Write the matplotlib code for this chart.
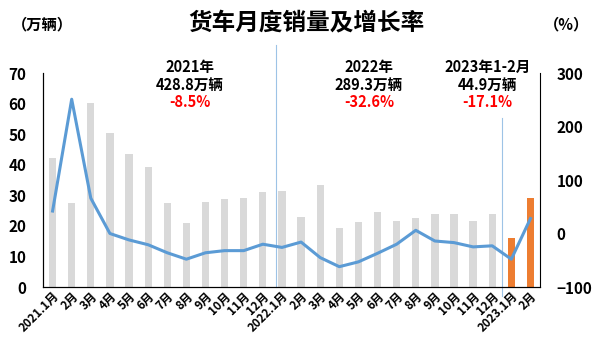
import numpy as np
import matplotlib.pyplot as plt

plt.rcParams['font.family'] = ['Noto Sans CJK SC', 'DejaVu Sans']
plt.rcParams['font.weight'] = 'bold'

# 月份标签
months = ['2021.1月', '2月', '3月', '4月', '5月', '6月', '7月', '8月', '9月', '10月', '11月', '12月',
          '2022.1月', '2月', '3月', '4月', '5月', '6月', '7月', '8月', '9月', '10月', '11月', '12月',
          '2023.1月', '2月']

# 销量 (万辆)
sales = [42.3, 27.6, 60.1, 50.3, 43.6, 39.4, 27.6, 21.0, 27.7, 28.9, 29.1, 31.1,
         31.5, 22.8, 33.3, 19.2, 21.2, 24.6, 21.7, 22.5, 23.9, 23.9, 21.7, 24.0,
         15.9, 29.2]

# 同比增长率 (%)
growth = [42, 251, 66, 0, -12, -21, -36, -48, -36, -32, -32, -20,
          -26, -16, -45, -62, -53, -37, -20, 6, -14, -17, -25, -23,
          -48, 28]

gray = '#d9d9d9'
orange = '#ed7d31'
blue = '#5b9bd5'

x = np.arange(len(months))
colors = [gray] * 24 + [orange] * 2

fig = plt.figure(figsize=(6, 3.51), dpi=100)
ax = fig.add_axes([0.0717, 0.1823, 0.8283, 0.6097])
ax.bar(x, sales, width=0.38, color=colors, zorder=1)
ax.set_ylim(0, 70)
ax.set_xlim(-0.5, len(months) - 0.5)
ax.set_yticks(range(0, 71, 10))
ax.set_xticks(x)
ax.set_xticklabels(months, rotation=45, ha='right', rotation_mode='anchor', fontsize=8.5)
ax.tick_params(axis='both', length=0)
ax.tick_params(axis='y', labelsize=11, pad=12)
ax.tick_params(axis='x', pad=2)
ax.spines['top'].set_visible(False)
ax.spines['right'].set_visible(False)

ax2 = ax.twinx()
ax2.plot(x, growth, color=blue, linewidth=2.2, zorder=3)
ax2.set_ylim(-100, 300)
ax2.set_yticks(range(-100, 301, 100))
ax2.tick_params(axis='y', length=0, labelsize=11, pad=12)
ax2.spines['top'].set_visible(False)

# 年份分隔线
ax.axvline(11.7, ymin=0, ymax=1.13, color='#9dc3e6', linewidth=0.8, clip_on=False)
ax.axvline(23.5, ymin=-0.04, ymax=0.79, color='#9dc3e6', linewidth=0.8, clip_on=False)

# 标题
fig.text(0.51, 0.935, '货车月度销量及增长率', ha='center', va='center', fontsize=17, fontweight='bold')
fig.text(0.07, 0.93, '（万辆）', ha='center', va='center', fontsize=11, fontweight='bold')
fig.text(0.945, 0.93, '（%）', ha='center', va='center', fontsize=11, fontweight='bold')

# 年度汇总
notes = [(0.317, '2021年', '428.8万辆', '-8.5%'),
         (0.615, '2022年', '289.3万辆', '-32.6%'),
         (0.813, '2023年1-2月', '44.9万辆', '-17.1%')]
for xf, yr, vol, pct in notes:
    fig.text(xf, 0.809, yr, ha='center', va='center', fontsize=10.5, fontweight='bold')
    fig.text(xf, 0.758, vol, ha='center', va='center', fontsize=10.5, fontweight='bold')
    fig.text(xf, 0.709, pct, ha='center', va='center', fontsize=10.5, fontweight='bold', color='#ff0000')

fig.savefig('out.png', dpi=100)
